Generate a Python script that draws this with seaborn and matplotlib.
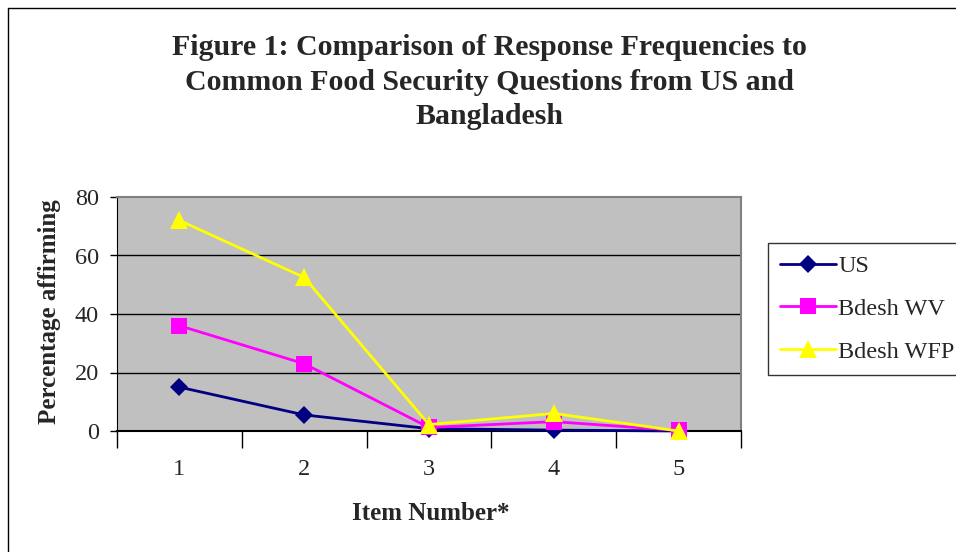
import matplotlib
matplotlib.use("Agg")
import matplotlib.pyplot as plt
import pandas as pd
import seaborn as sns

# data
items = [1, 2, 3, 4, 5]
us = [15.0, 5.5, 0.8, 0.3, 0.0]
bdesh_wv = [36.0, 23.0, 1.2, 3.2, 0.2]
bdesh_wfp = [72.0, 52.5, 2.2, 6.0, 0.0]
series_names = ["US", "Bdesh WV", "Bdesh WFP"]

df = pd.DataFrame({
    "item": items * 3,
    "value": us + bdesh_wv + bdesh_wfp,
    "series": [s for s in series_names for _ in items],
})

sns.set_style("white")
plt.rcParams["font.family"] = ["Liberation Serif", "DejaVu Serif"]

fig = plt.figure(figsize=(9.56, 5.52), dpi=100)
ax = fig.add_axes([117 / 956, 1 - 431 / 552, 624 / 956, 234 / 552])
ax.set_facecolor("#C0C0C0")

palette = {"US": "#000080", "Bdesh WV": "#FF00FF", "Bdesh WFP": "#FFFF00"}
markers = {"US": "D", "Bdesh WV": "s", "Bdesh WFP": "^"}
sizes = {"US": 9, "Bdesh WV": 11, "Bdesh WFP": 13}

for name in series_names:
    sub = df[df["series"] == name]
    sns.lineplot(data=sub, x="item", y="value", ax=ax, color=palette[name],
                 marker=markers[name], markersize=sizes[name],
                 markeredgewidth=0, linewidth=2, label=name, clip_on=False,
                 zorder=3)

ax.set_xlim(0.5, 5.5)
ax.set_ylim(0, 80)
ax.set_yticks([0, 20, 40, 60, 80])
ax.set_xticks(items)
ax.set_xticks([0.5, 1.5, 2.5, 3.5, 4.5, 5.5], minor=True)
ax.tick_params(axis="x", which="major", length=0, pad=20, labelsize=17.5)
ax.tick_params(axis="x", which="minor", length=12, width=1, direction="out",
               bottom=True, color="black")
ax.tick_params(axis="y", length=5, width=1, direction="out", left=True,
               labelsize=17.5, pad=8, color="black")

for y in [20, 40, 60]:
    ax.axhline(y, color="black", linewidth=1, zorder=1)

ax.spines["left"].set_color("black")
ax.spines["bottom"].set_color("black")
ax.spines["bottom"].set_linewidth(1.5)
ax.spines["top"].set_color("#808080")
ax.spines["right"].set_color("#808080")
ax.spines["top"].set_linewidth(1.5)
ax.spines["right"].set_linewidth(1.5)

ax.set_xlabel("")
ax.set_ylabel("")
fig.text(50 / 956, 1 - 312 / 552, "Percentage affirming", rotation=90,
         ha="center", va="center", fontsize=18, fontweight="bold")
fig.text(431 / 956, 1 - 513 / 552, "Item Number*", ha="center", va="center",
         fontsize=18, fontweight="bold")
fig.text(489 / 956, 1 - 82 / 552,
         "Figure 1: Comparison of Response Frequencies to\n"
         "Common Food Security Questions from US and\nBangladesh",
         ha="center", va="center", fontsize=21.5, fontweight="bold",
         linespacing=1.38)

leg = ax.legend(loc="upper left", bbox_to_anchor=(768 / 956, 1 - 243 / 552),
                bbox_transform=fig.transFigure, frameon=True, fancybox=False,
                fontsize=17.5, handlelength=2.3, handletextpad=0.1,
                labelspacing=0.85, borderpad=0.5, borderaxespad=0)
leg.get_frame().set_edgecolor("black")
leg.get_frame().set_linewidth(1)

# outer chart frame
fig.add_artist(plt.Line2D([8 / 956, 8 / 956], [0, 1 - 8 / 552],
                          transform=fig.transFigure, color="black", lw=1))
fig.add_artist(plt.Line2D([8 / 956, 1], [1 - 8 / 552, 1 - 8 / 552],
                          transform=fig.transFigure, color="black", lw=1))

fig.savefig("out.png", dpi=100)
